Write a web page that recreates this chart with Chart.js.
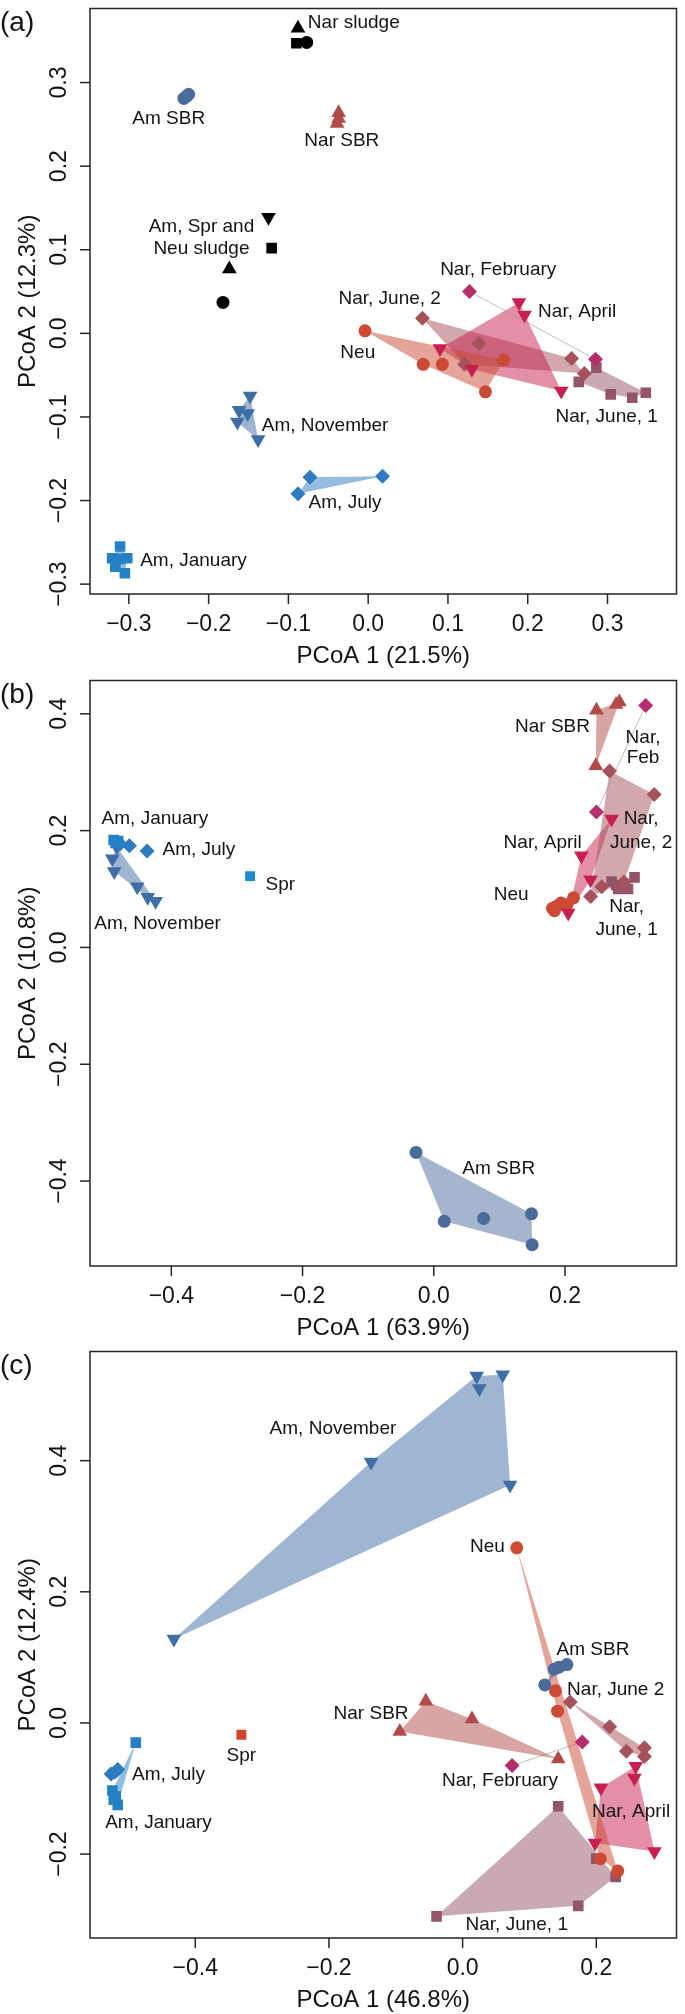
<!DOCTYPE html>
<html lang="en">
<head>
<meta charset="UTF-8" />
<title>PCoA ordinations (a) (b) (c)</title>
<script src="https://cdn.jsdelivr.net/npm/chart.js@4.4.1/dist/chart.umd.min.js"></script>
<style>
  body { margin: 0; background: #fff; }
  canvas { position: absolute; left: 0; }
</style>
</head>
<body>
<canvas id="pa" width="685" height="672" style="top:0px"></canvas>
<canvas id="pb" width="685" height="671" style="top:672px"></canvas>
<canvas id="pc" width="685" height="671" style="top:1343px"></canvas>

<script>
// ---------- panel (a) ----------
const aXTicks = [-0.3, -0.2, -0.1, 0.0, 0.1, 0.2, 0.3];
const aYTicks = [-0.3, -0.2, -0.1, 0.0, 0.1, 0.2, 0.3];
const aAmJanuary = [[-0.311, -0.255], [-0.321, -0.269], [-0.302, -0.269], [-0.317, -0.279], [-0.305, -0.287], [-0.311, -0.270]];
const aAmJuly = [[-0.073, -0.172], [0.018, -0.171], [-0.088, -0.192]];
const aAmNovember = [[-0.148, -0.075], [-0.162, -0.092], [-0.151, -0.096], [-0.164, -0.106], [-0.138, -0.127]];
const aAmSBR = [[-0.231, 0.281], [-0.227, 0.284], [-0.225, 0.286]];
const aNarSBR = [[-0.037, 0.264], [-0.037, 0.257], [-0.039, 0.251]];
const aNeu = [[-0.004, 0.003], [0.069, -0.037], [0.093, -0.037], [0.170, -0.032], [0.147, -0.070]];
const aNarFebruary = [[0.127, 0.050], [0.285, -0.031]];
const aNarApril = [[0.189, 0.037], [0.196, 0.022], [0.090, -0.018], [0.130, -0.043], [0.242, -0.069]];
const aNarJune2 = [[0.068, 0.018], [0.139, -0.012], [0.121, -0.037], [0.255, -0.030], [0.271, -0.048]];
const aNarJune1 = [[0.264, -0.058], [0.286, -0.041], [0.304, -0.073], [0.331, -0.077], [0.348, -0.071]];
const aSludgeUp = [[-0.088, 0.365], [-0.174, 0.077]];
const aSludgeSquare = [[-0.090, 0.347], [-0.121, 0.102]];
const aSludgeCircle = [[-0.077, 0.348], [-0.182, 0.037]];
const aSludgeDown = [[-0.125, 0.139]];
const aLabels = [
  ['Nar sludge', -0.018, 0.372], ['Am SBR', -0.250, 0.257], ['Nar SBR', -0.033, 0.230],
  ['Am, Spr and', -0.209, 0.128], ['Neu sludge', -0.209, 0.101],
  ['Nar, February', 0.163, 0.076], ['Nar, June, 2', 0.027, 0.041], ['Nar, April', 0.262, 0.026],
  ['Neu', -0.013, -0.023], ['Nar, June, 1', 0.299, -0.100], ['Am, November', -0.054, -0.110],
  ['Am, July', -0.029, -0.203], ['Am, January', -0.219, -0.272]
];

// ---------- panel (b) ----------
const bXTicks = [-0.4, -0.2, 0.0, 0.2];
const bYTicks = [-0.4, -0.2, 0.0, 0.2, 0.4];
const bAmJanuary = [[-0.488, 0.184], [-0.481, 0.182], [-0.485, 0.179]];
const bAmJuly = [[-0.478, 0.177], [-0.464, 0.174], [-0.437, 0.165]];
const bAmNovember = [[-0.490, 0.152], [-0.483, 0.172], [-0.487, 0.130], [-0.452, 0.104], [-0.436, 0.086], [-0.424, 0.079]];
const bAmSBR = [[-0.027, -0.351], [0.016, -0.469], [0.076, -0.464], [0.149, -0.456], [0.150, -0.509]];
const bSpr = [[-0.280, 0.122]];
const bNarSBR = [[0.248, 0.406], [0.283, 0.420], [0.278, 0.416], [0.247, 0.311]];
const bNarFebruary = [[0.323, 0.414], [0.248, 0.232]];
const bNarJune2 = [[0.268, 0.302], [0.336, 0.262], [0.290, 0.112], [0.256, 0.104], [0.239, 0.087]];
const bNarApril = [[0.271, 0.220], [0.225, 0.157], [0.239, 0.116], [0.205, 0.059]];
const bNeu = [[0.181, 0.067], [0.188, 0.071], [0.194, 0.076], [0.203, 0.073], [0.213, 0.085], [0.184, 0.063]];
const bNarJune1 = [[0.271, 0.113], [0.281, 0.100], [0.296, 0.100], [0.306, 0.120], [0.278, 0.107]];
const bLabels = [
  ['Nar SBR', 0.181, 0.378], ['Nar,', 0.319, 0.359], ['Feb', 0.319, 0.324],
  ['Am, January', -0.425, 0.221], ['Nar,', 0.316, 0.220], ['June, 2', 0.316, 0.180],
  ['Nar, April', 0.166, 0.180], ['Am, July', -0.358, 0.168], ['Spr', -0.234, 0.108],
  ['Neu', 0.118, 0.091], ['Nar,', 0.294, 0.070], ['June, 1', 0.294, 0.031],
  ['Am, November', -0.421, 0.040], ['Am SBR', 0.099, -0.379]
];

// ---------- panel (c) ----------
const cXTicks = [-0.4, -0.2, 0.0, 0.2];
const cYTicks = [-0.2, 0.0, 0.2, 0.4];
const cAmJanuary = [[-0.489, -0.030], [-0.524, -0.103], [-0.519, -0.112], [-0.516, -0.125], [-0.522, -0.117]];
const cAmJuly = [[-0.526, -0.078], [-0.516, -0.071], [-0.520, -0.075]];
const cAmNovember = [[0.021, 0.529], [0.060, 0.531], [0.025, 0.510], [-0.137, 0.398], [0.071, 0.363], [-0.432, 0.128]];
const cAmSBR = [[0.137, 0.082], [0.156, 0.089], [0.123, 0.058], [0.144, 0.085]];
const cSpr = [[-0.331, -0.018]];
const cNeu = [[0.081, 0.267], [0.139, 0.049], [0.142, 0.018], [0.206, -0.207], [0.232, -0.226]];
const cNarSBR = [[-0.055, 0.033], [0.014, 0.006], [-0.094, -0.013], [0.143, -0.055]];
const cNarFebruary = [[0.074, -0.065], [0.179, -0.029]];
const cNarJune2 = [[0.161, 0.032], [0.220, -0.006], [0.245, -0.043], [0.272, -0.038], [0.272, -0.051]];
const cNarApril = [[0.259, -0.066], [0.257, -0.084], [0.207, -0.099], [0.198, -0.183], [0.287, -0.196]];
const cNarJune1 = [[0.143, -0.127], [0.200, -0.207], [0.229, -0.235], [-0.039, -0.295], [0.173, -0.279]];
const cLabels = [
  ['Am, November', -0.194, 0.448], ['Neu', 0.037, 0.269], ['Am SBR', 0.195, 0.111],
  ['Nar, June 2', 0.229, 0.051], ['Nar SBR', -0.137, 0.014], ['Spr', -0.331, -0.050],
  ['Am, July', -0.440, -0.079], ['Nar, February', 0.056, -0.088], ['Nar, April', 0.252, -0.136],
  ['Am, January', -0.455, -0.152], ['Nar, June, 1', 0.081, -0.308]
];

// marker look for each group
const styles = {
  amJan:  { color: '#2680c4', shape: 'rect', r: 7.5 },
  amJul:  { color: '#2e7bbf', shape: 'rectRot', r: 7.5 },
  amNov:  { color: '#3d6ea6', shape: 'triangle', rot: 180, r: 8.5 },
  amSBR:  { color: '#4a6b9c', shape: 'circle', r: 6.5 },
  sprB:   { color: '#1b8ad0', shape: 'rect', r: 7 },
  sprC:   { color: '#d0452a', shape: 'rect', r: 7 },
  neu:    { color: '#cc4a34', shape: 'circle', r: 6.5 },
  narSBR: { color: '#b04b48', shape: 'triangle', r: 8.5 },
  narFeb: { color: '#b52d6b', shape: 'rectRot', r: 7.5 },
  narApr: { color: '#c8204e', shape: 'triangle', rot: 180, r: 8.5 },
  narJ2:  { color: '#a5525a', shape: 'rectRot', r: 7.5 },
  narJ1:  { color: '#935567', shape: 'rect', r: 7.5 },
  sUp:    { color: '#000', shape: 'triangle', r: 8.5, noHull: true },
  sSq:    { color: '#000', shape: 'rect', r: 7.5, noHull: true },
  sCi:    { color: '#000', shape: 'circle', r: 6.5, noHull: true },
  sDown:  { color: '#000', shape: 'triangle', rot: 180, r: 8.5, noHull: true }
};

const FONT = '"Liberation Sans", Arial, sans-serif';

const panels = [
  { id: 'pa', letter: '(a)', xTitle: 'PCoA 1 (21.5%)', yTitle: 'PCoA 2 (12.3%)',
    xMin: -0.3487, xMax: 0.3865, yMin: -0.3118, yMax: 0.3886, top: 1, bottom: 594,
    xTicks: aXTicks, yTicks: aYTicks, labels: aLabels,
    groups: [['amJan', aAmJanuary], ['amJul', aAmJuly], ['amNov', aAmNovember], ['amSBR', aAmSBR],
             ['narSBR', aNarSBR], ['neu', aNeu], ['narFeb', aNarFebruary], ['narApr', aNarApril],
             ['narJ2', aNarJune2], ['narJ1', aNarJune1], ['sUp', aSludgeUp], ['sSq', aSludgeSquare],
             ['sCi', aSludgeCircle], ['sDown', aSludgeDown]] },
  { id: 'pb', letter: '(b)', xTitle: 'PCoA 1 (63.9%)', yTitle: 'PCoA 2 (10.8%)',
    xMin: -0.524, xMax: 0.370, yMin: -0.5454, yMax: 0.457, top: 1, bottom: 594,
    xTicks: bXTicks, yTicks: bYTicks, labels: bLabels,
    groups: [['amJan', bAmJanuary], ['amJul', bAmJuly], ['amNov', bAmNovember], ['amSBR', bAmSBR],
             ['sprB', bSpr], ['narSBR', bNarSBR], ['narFeb', bNarFebruary], ['narJ2', bNarJune2],
             ['narApr', bNarApril], ['neu', bNeu], ['narJ1', bNarJune1]] },
  { id: 'pc', letter: '(c)', xTitle: 'PCoA 1 (46.8%)', yTitle: 'PCoA 2 (12.4%)',
    xMin: -0.5575, xMax: 0.320, yMin: -0.328, yMax: 0.5665, top: 3, bottom: 595,
    xTicks: cXTicks, yTicks: cYTicks, labels: cLabels,
    groups: [['amJan', cAmJanuary], ['amJul', cAmJuly], ['amNov', cAmNovember], ['amSBR', cAmSBR],
             ['sprC', cSpr], ['neu', cNeu], ['narSBR', cNarSBR], ['narFeb', cNarFebruary],
             ['narJ2', cNarJune2], ['narApr', cNarApril], ['narJ1', cNarJune1]] }
];

function hexA(hex, a) {
  const n = parseInt(hex.slice(1), 16);
  return `rgba(${(n >> 16) & 255}, ${(n >> 8) & 255}, ${n & 255}, ${a})`;
}

// convex hull (monotone chain) of a group's points
function hull(pts) {
  const p = pts.map(d => ({ x: d[0], y: d[1] })).sort((a, b) => a.x - b.x || a.y - b.y);
  if (p.length < 3) return p;
  const cross = (o, a, b) => (a.x - o.x) * (b.y - o.y) - (a.y - o.y) * (b.x - o.x);
  const lo = [], up = [];
  for (const q of p) {
    while (lo.length >= 2 && cross(lo[lo.length - 2], lo[lo.length - 1], q) <= 0) lo.pop();
    lo.push(q);
  }
  for (let i = p.length - 1; i >= 0; i--) {
    const q = p[i];
    while (up.length >= 2 && cross(up[up.length - 2], up[up.length - 1], q) <= 0) up.pop();
    up.push(q);
  }
  up.pop(); lo.pop();
  return lo.concat(up);
}

function fmt(v) {
  const s = Math.abs(v) < 1e-9 ? '0.0' : v.toFixed(1);
  return s.replace('-', '\u2212');
}

function buildDatasets(panel) {
  const sets = [];
  panel.groups.forEach(([key, pts]) => {
    const st = styles[key];
    if (!st.noHull && pts.length > 1) {
      const h = hull(pts);
      h.push(h[0]);
      const twoPts = pts.length < 3;
      sets.push({
        data: h, showLine: true, fill: 'shape', order: 2,
        backgroundColor: hexA(st.color, 0.5),
        borderColor: twoPts ? 'rgba(150, 150, 150, 0.45)' : hexA(st.color, 0.4),
        borderWidth: twoPts ? 0.8 : 0,
        pointRadius: 0, tension: 0
      });
    }
  });
  panel.groups.forEach(([key, pts]) => {
    const st = styles[key];
    sets.push({
      data: pts.map(d => ({ x: d[0], y: d[1] })), order: 1,
      pointStyle: st.shape, pointRadius: st.r, pointRotation: st.rot || 0,
      backgroundColor: st.color, borderColor: st.color, pointBorderWidth: 0
    });
  });
  return sets;
}

function framePlugin(panel) {
  return {
    id: 'frame',
    afterDraw(chart) {
      const { ctx, chartArea: a, scales: { x, y } } = chart;
      ctx.save();
      ctx.strokeStyle = '#262626';
      ctx.lineWidth = 1.5;
      ctx.strokeRect(a.left, a.top, a.right - a.left, a.bottom - a.top);
      ctx.fillStyle = '#141414';
      ctx.font = `23px ${FONT}`;
      ctx.textAlign = 'center';
      ctx.textBaseline = 'alphabetic';
      panel.xTicks.forEach(v => {
        const px = x.getPixelForValue(v);
        ctx.beginPath(); ctx.moveTo(px, a.bottom); ctx.lineTo(px, a.bottom + 10); ctx.stroke();
        ctx.fillText(fmt(v), px, a.bottom + 37);
      });
      panel.yTicks.forEach(v => {
        const py = y.getPixelForValue(v);
        ctx.beginPath(); ctx.moveTo(a.left - 10, py); ctx.lineTo(a.left, py); ctx.stroke();
        ctx.save();
        ctx.translate(a.left - 24, py);
        ctx.rotate(-Math.PI / 2);
        ctx.fillText(fmt(v), 0, 0);
        ctx.restore();
      });
      // axis titles
      ctx.font = `24px ${FONT}`;
      ctx.fillText(panel.xTitle, (a.left + a.right) / 2, a.bottom + 69);
      ctx.save();
      ctx.translate(35, (a.top + a.bottom) / 2);
      ctx.rotate(-Math.PI / 2);
      ctx.fillText(panel.yTitle, 0, 0);
      ctx.restore();
      // panel letter
      ctx.font = `28px ${FONT}`;
      ctx.textAlign = 'left';
      ctx.fillText(panel.letter, 0, a.top + 22);
      // group labels
      ctx.font = `19px ${FONT}`;
      ctx.textAlign = 'center';
      ctx.textBaseline = 'middle';
      panel.labels.forEach(([t, vx, vy]) => {
        ctx.fillText(t, x.getPixelForValue(vx), y.getPixelForValue(vy));
      });
      ctx.restore();
    }
  };
}

panels.forEach(panel => {
  const canvas = document.getElementById(panel.id);
  const H = canvas.height;
  new Chart(canvas, {
    type: 'scatter',
    data: { datasets: buildDatasets(panel) },
    options: {
      responsive: false,
      animation: false,
      devicePixelRatio: 1,
      layout: { padding: { left: 0, right: 1, top: panel.top, bottom: 0 } },
      plugins: { legend: { display: false }, tooltip: { enabled: false } },
      scales: {
        x: {
          type: 'linear', min: panel.xMin, max: panel.xMax, bounds: 'data',
          grid: { display: false }, border: { display: false }, ticks: { display: false },
          afterFit: s => { s.height = H - panel.bottom; }
        },
        y: {
          type: 'linear', min: panel.yMin, max: panel.yMax, bounds: 'data',
          grid: { display: false }, border: { display: false }, ticks: { display: false },
          afterFit: s => { s.width = 90; }
        }
      }
    },
    plugins: [framePlugin(panel)]
  });
});
</script>
</body>
</html>
